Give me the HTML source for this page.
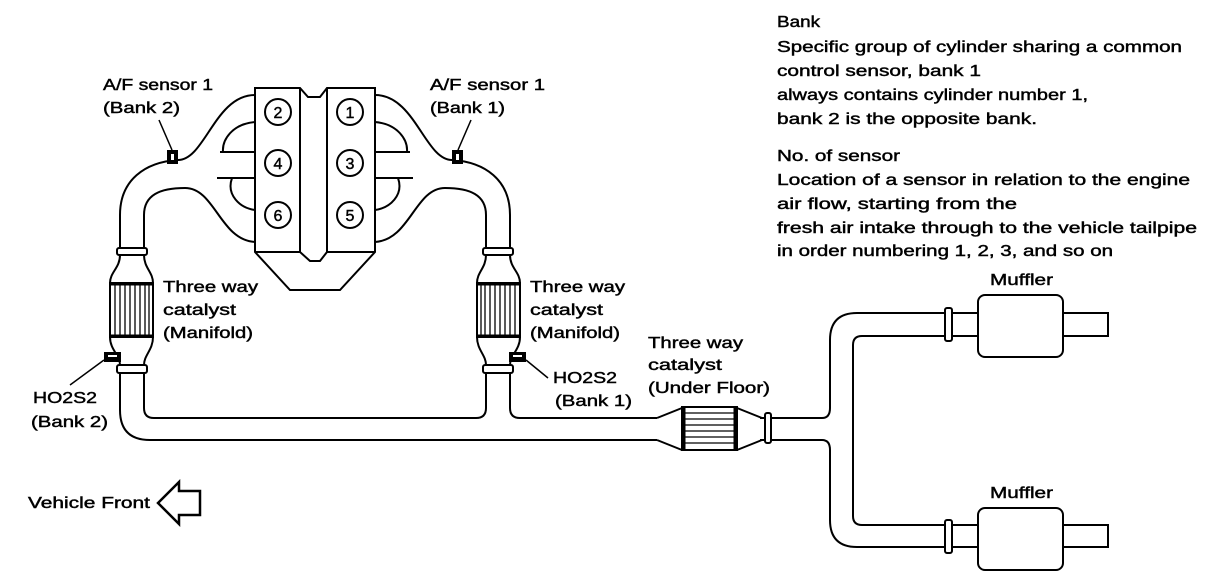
<!DOCTYPE html>
<html><head><meta charset="utf-8"><style>
html,body{margin:0;padding:0;background:#fff;}
svg{display:block;}
text{font-family:"Liberation Sans",Arial,sans-serif;font-size:16px;fill:#000;stroke:#000;stroke-width:0.45px;}
</style></head><body>
<svg width="1216" height="582" viewBox="0 0 1216 582" xmlns="http://www.w3.org/2000/svg">
<defs>
<g id="half" fill="none" stroke="#000" stroke-width="2">
  <path d="M255,95 C215,95 205,160 178,160 C145,162 120,180 120,215 L120,248"/>
  <path d="M255,242 C220,240 215,188 185,188 C160,188 144,195 144,215 L144,248"/>
  <path d="M255,122 C232,124 222,140 223,152"/>
  <line x1="220" y1="152" x2="255" y2="152"/>
  <line x1="217" y1="178" x2="255" y2="178"/>
  <path d="M232,178 C226,195 240,208 255,210"/>
  <rect x="168" y="151" width="9" height="12" fill="#000"/>
  <rect x="171" y="154" width="3" height="6" fill="#fff" stroke="none"/>
  <line x1="172" y1="150" x2="159" y2="120" stroke-width="1.5"/>
  <rect x="117" y="248" width="30" height="7" rx="2" fill="#fff"/>
  <path d="M120,255 C120,268 110,272 110,283"/>
  <path d="M144,255 C144,268 153,272 153,283"/>
  <rect x="110" y="283" width="43" height="54" fill="#fff"/>
  <line x1="110" y1="284" x2="153" y2="284" stroke-width="3"/>
  <line x1="110" y1="336" x2="153" y2="336" stroke-width="3"/>
  <g stroke-width="1.3">
  <line x1="115" y1="284" x2="115" y2="336"/><line x1="120" y1="284" x2="120" y2="336"/>
  <line x1="125" y1="284" x2="125" y2="336"/><line x1="130" y1="284" x2="130" y2="336"/>
  <line x1="135" y1="284" x2="135" y2="336"/><line x1="140" y1="284" x2="140" y2="336"/>
  <line x1="145" y1="284" x2="145" y2="336"/><line x1="149" y1="284" x2="149" y2="336"/>
  </g>
  <path d="M110,337 C110,350 120,355 120,365"/>
  <path d="M153,337 C153,350 144,355 144,365"/>
  <rect x="117" y="365" width="30" height="8" rx="2" fill="#fff"/>
  <rect x="105" y="353" width="15" height="8" fill="#000"/>
  <rect x="108" y="355" width="9" height="2" fill="#fff" stroke="none"/>
</g>
</defs>

<use href="#half"/>
<use href="#half" transform="translate(630,0) scale(-1,1)"/>

<g fill="none" stroke="#000" stroke-width="2">
  <path d="M255,88 L300,88 L308,97 L320,97 L327,88 L375,88 L375,252 L340,290 L290,290 L255,252 Z" fill="#fff"/>
  <line x1="300" y1="88" x2="300" y2="252"/>
  <line x1="327" y1="88" x2="327" y2="252"/>
  <path d="M255,252 L300,252 L310,261 L320,261 L327,252 L375,252"/>
  <circle cx="278" cy="112" r="13"/><circle cx="350" cy="112" r="13"/>
  <circle cx="278" cy="163" r="13"/><circle cx="350" cy="163" r="13"/>
  <circle cx="278" cy="215" r="13"/><circle cx="350" cy="215" r="13"/>

  <line x1="104" y1="360" x2="70" y2="385" stroke-width="1.5"/>
  <line x1="526" y1="360" x2="548" y2="378" stroke-width="1.5"/>

  <line x1="120" y1="373" x2="120" y2="410"/>
  <path d="M120,410 Q120,440 150,440 L657,440"/>
  <path d="M144,373 L144,408 Q144,418 154,418 L476,418 Q486,418 486,408 L486,373"/>
  <path d="M510,373 L510,408 Q510,418 520,418 L657,418"/>

  <path d="M657,418 L682,408"/><path d="M657,440 L682,450"/>
  <rect x="682" y="407" width="55" height="43" fill="#fff"/>
  <line x1="684" y1="407" x2="684" y2="450" stroke-width="3"/>
  <line x1="735" y1="407" x2="735" y2="450" stroke-width="3"/>
  <g stroke-width="1.3">
  <line x1="682" y1="413" x2="737" y2="413"/><line x1="682" y1="419" x2="737" y2="419"/>
  <line x1="682" y1="425" x2="737" y2="425"/><line x1="682" y1="431" x2="737" y2="431"/>
  <line x1="682" y1="437" x2="737" y2="437"/><line x1="682" y1="443" x2="737" y2="443"/>
  </g>
  <path d="M737,408 L762,418"/><path d="M737,450 L762,440"/>
  <line x1="760" y1="418" x2="765" y2="418"/><line x1="760" y1="440" x2="765" y2="440"/>
  <rect x="765" y="413" width="6" height="30" rx="2" fill="#fff"/>

  <path d="M771,418 L822,418 Q830,418 830,408 L830,340 Q830,313 857,313 L945,313"/>
  <path d="M771,440 L822,440 Q830,440 830,450 L830,520 Q830,547 857,547 L945,547"/>
  <path d="M945,336 L862,336 Q853,336 853,345 L853,516 Q853,525 862,525 L945,525"/>
  <rect x="945" y="308" width="7" height="33" rx="2" fill="#fff"/>
  <rect x="945" y="520" width="7" height="33" rx="2" fill="#fff"/>
  <line x1="952" y1="313" x2="978" y2="313"/><line x1="952" y1="336" x2="978" y2="336"/>
  <line x1="952" y1="525" x2="978" y2="525"/><line x1="952" y1="547" x2="978" y2="547"/>
  <rect x="978" y="295" width="85" height="62" rx="7" fill="#fff"/>
  <rect x="978" y="508" width="85" height="62" rx="7" fill="#fff"/>
  <path d="M1063,313 L1108,313 L1108,336 L1063,336"/>
  <path d="M1063,525 L1108,525 L1108,547 L1063,547"/>

  <path d="M158,503 L179,482 L179,491 L200,491 L200,515 L179,515 L179,524 Z" stroke-width="2.5"/>
</g>

<g>
<text x="777" y="27" textLength="43" lengthAdjust="spacingAndGlyphs">Bank</text>
<text x="777" y="52" textLength="405" lengthAdjust="spacingAndGlyphs">Specific group of cylinder sharing a common</text>
<text x="777" y="76" textLength="204" lengthAdjust="spacingAndGlyphs">control sensor, bank 1</text>
<text x="777" y="100" textLength="311" lengthAdjust="spacingAndGlyphs">always contains cylinder number 1,</text>
<text x="777" y="124" textLength="260" lengthAdjust="spacingAndGlyphs">bank 2 is the opposite bank.</text>
<text x="777" y="161" textLength="123" lengthAdjust="spacingAndGlyphs">No. of sensor</text>
<text x="777" y="185" textLength="413" lengthAdjust="spacingAndGlyphs">Location of a sensor in relation to the engine</text>
<text x="777" y="209" textLength="240" lengthAdjust="spacingAndGlyphs">air flow, starting from the</text>
<text x="777" y="233" textLength="420" lengthAdjust="spacingAndGlyphs">fresh air intake through to the vehicle tailpipe</text>
<text x="777" y="256" textLength="336" lengthAdjust="spacingAndGlyphs">in order numbering 1, 2, 3, and so on</text>

<text x="103" y="90" textLength="110" lengthAdjust="spacingAndGlyphs">A/F sensor 1</text>
<text x="103" y="113" textLength="77" lengthAdjust="spacingAndGlyphs">(Bank 2)</text>
<text x="430" y="90" textLength="115" lengthAdjust="spacingAndGlyphs">A/F sensor 1</text>
<text x="430" y="113" textLength="75" lengthAdjust="spacingAndGlyphs">(Bank 1)</text>

<text x="163" y="292" textLength="95" lengthAdjust="spacingAndGlyphs">Three way</text>
<text x="163" y="315" textLength="73" lengthAdjust="spacingAndGlyphs">catalyst</text>
<text x="163" y="338" textLength="90" lengthAdjust="spacingAndGlyphs">(Manifold)</text>
<text x="530" y="292" textLength="95" lengthAdjust="spacingAndGlyphs">Three way</text>
<text x="530" y="315" textLength="73" lengthAdjust="spacingAndGlyphs">catalyst</text>
<text x="530" y="338" textLength="90" lengthAdjust="spacingAndGlyphs">(Manifold)</text>

<text x="648" y="348" textLength="95" lengthAdjust="spacingAndGlyphs">Three way</text>
<text x="648" y="370" textLength="74" lengthAdjust="spacingAndGlyphs">catalyst</text>
<text x="648" y="393" textLength="122" lengthAdjust="spacingAndGlyphs">(Under Floor)</text>

<text x="553" y="383" textLength="64" lengthAdjust="spacingAndGlyphs">HO2S2</text>
<text x="555" y="406" textLength="77" lengthAdjust="spacingAndGlyphs">(Bank 1)</text>
<text x="33" y="403" textLength="64" lengthAdjust="spacingAndGlyphs">HO2S2</text>
<text x="31" y="427" textLength="77" lengthAdjust="spacingAndGlyphs">(Bank 2)</text>

<text x="990" y="285" textLength="63" lengthAdjust="spacingAndGlyphs">Muffler</text>
<text x="990" y="498" textLength="63" lengthAdjust="spacingAndGlyphs">Muffler</text>
<text x="28" y="508" textLength="122" lengthAdjust="spacingAndGlyphs">Vehicle Front</text>

<g text-anchor="middle">
<text x="278" y="118" style="font-size:16px">2</text><text x="350" y="118" style="font-size:16px">1</text>
<text x="278" y="169" style="font-size:16px">4</text><text x="350" y="169" style="font-size:16px">3</text>
<text x="278" y="221" style="font-size:16px">6</text><text x="350" y="221" style="font-size:16px">5</text>
</g>
</g>
</svg>
</body></html>
